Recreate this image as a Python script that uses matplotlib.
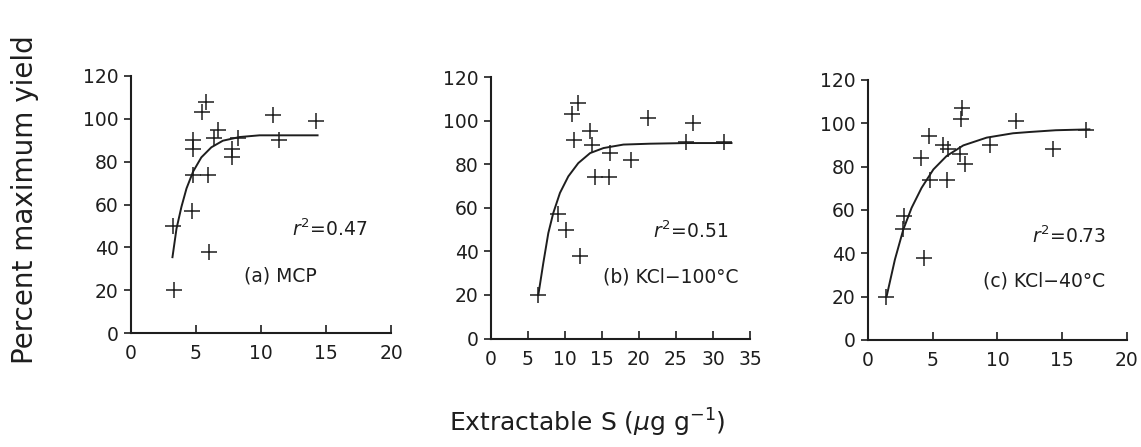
import matplotlib
matplotlib.use("Agg")
import matplotlib.pyplot as plt

# (a) MCP
mcp_x = [3.2, 3.3, 4.8, 4.8, 4.8, 5.9, 4.7, 6.0, 5.8, 5.5, 6.7, 6.4, 7.8, 7.8, 8.2, 10.9, 11.4, 14.2]
mcp_y = [50, 20, 90, 86, 74, 74, 57, 38, 108, 103, 95, 91, 86, 82, 91, 102, 90, 99]
mcp_fit_x = [3.19, 3.5, 3.88, 4.27, 4.78, 5.41, 6.18, 7.07, 8.35, 9.89, 11.4, 14.35]
mcp_fit_y = [35.4, 48.7, 58.9, 67.5, 75.4, 82.0, 86.7, 89.8, 91.5, 92.3, 92.3, 92.3]

# (b) KCl-100C
k100_x = [6.4, 9.0, 10.2, 12.0, 11.8, 10.9, 11.2, 13.4, 13.6, 16.1, 14.1, 15.9, 18.9, 21.2, 26.3, 27.3, 31.5]
k100_y = [20, 57, 50, 38, 108, 103, 91, 95, 89, 85, 74, 74, 82, 101, 90, 99, 90]
k100_fit_x = [6.4, 7.07, 7.75, 8.42, 9.32, 10.45, 11.8, 13.4, 15.2, 17.9, 21.5, 26.5, 32.5]
k100_fit_y = [20.0, 34.6, 48.4, 57.6, 66.8, 74.4, 80.5, 85.1, 87.4, 89.0, 89.4, 89.7, 89.7]

# (c) KCl-40C
k40_x = [1.4, 2.8, 2.7, 4.3, 4.1, 4.7, 4.8, 6.1, 5.8, 6.2, 7.3, 7.2, 7.1, 7.5, 9.4, 11.4, 14.3, 16.8]
k40_y = [20, 57, 51, 38, 84, 94, 74, 74, 90, 88, 107, 102, 86, 81, 90, 101, 88, 97]
k40_fit_x = [1.44, 2.08, 2.73, 3.37, 4.14, 5.05, 6.07, 7.36, 9.17, 11.2, 12.5, 14.5, 17.1]
k40_fit_y = [20.1, 37.1, 51.0, 61.0, 70.2, 78.7, 84.9, 89.8, 93.4, 95.4, 96.0, 96.8, 97.2]

panels = [
    dict(x=mcp_x, y=mcp_y, fx=mcp_fit_x, fy=mcp_fit_y, xmax=20, xticks=[0, 5, 10, 15, 20],
         r2="0.47", r2pos=(12.4, 48.6), label="(a) MCP", labpos=(8.7, 26.6),
         rect=[0.1148, 0.255, 0.2279, 0.575]),
    dict(x=k100_x, y=k100_y, fx=k100_fit_x, fy=k100_fit_y, xmax=35,
         xticks=[0, 5, 10, 15, 20, 25, 30, 35],
         r2="0.51", r2pos=(21.9, 49), label="(b) KCl\u2212100\u00b0C", labpos=(15.1, 28),
         rect=[0.4303, 0.2427, 0.227, 0.585]),
    dict(x=k40_x, y=k40_y, fx=k40_fit_x, fy=k40_fit_y, xmax=20, xticks=[0, 5, 10, 15, 20],
         r2="0.73", r2pos=(12.7, 47.7), label="(c) KCl\u221240\u00b0C", labpos=(8.9, 27),
         rect=[0.7607, 0.2394, 0.227, 0.5817]),
]

ink = "#1e1e1e"
fig = plt.figure(figsize=(11.41, 4.47), dpi=100)

for p in panels:
    ax = fig.add_axes(p["rect"])
    ax.plot(p["fx"], p["fy"], color=ink, lw=1.4)
    ax.plot(p["x"], p["y"], ls="none", marker="+", ms=11, mew=1.1, color=ink)
    ax.set_xlim(0, p["xmax"])
    ax.set_ylim(0, 120)
    ax.set_xticks(p["xticks"])
    ax.set_yticks(range(0, 121, 20))
    for s in ["top", "right"]:
        ax.spines[s].set_visible(False)
    for s in ["left", "bottom"]:
        ax.spines[s].set_linewidth(1.5)
        ax.spines[s].set_color(ink)
    ax.tick_params(axis="x", direction="in", length=6, width=1.2, labelsize=13.5,
                   colors=ink, pad=8)
    ax.tick_params(axis="y", direction="out", length=5, width=1.2, labelsize=13.5,
                   colors=ink, pad=4)
    ax.text(*p["r2pos"], r"$r^2$=" + p["r2"], fontsize=13.5, color=ink,
            ha="left", va="center")
    ax.text(*p["labpos"], p["label"], fontsize=13.5, color=ink, ha="left", va="center")

fig.text(0.022, 0.553, "Percent maximum yield", rotation=90, fontsize=20,
         color=ink, ha="center", va="center")
fig.text(0.515, 0.054, r"Extractable S ($\mu$g g$^{-1}$)", fontsize=18,
         color=ink, ha="center", va="center")

fig.savefig("out.png", dpi=100, facecolor="white")
